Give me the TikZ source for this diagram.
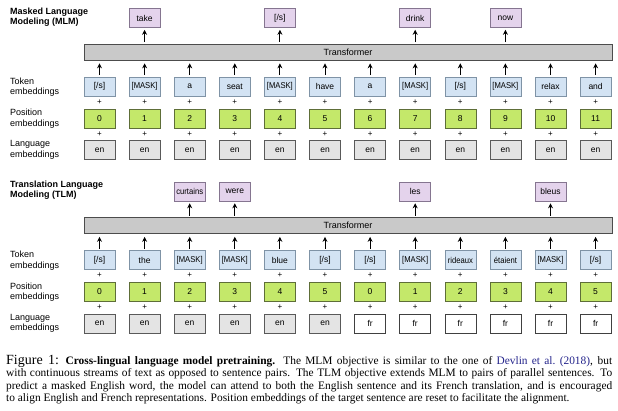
\documentclass[tikz,border=0pt]{standalone}
\usepackage{fontspec}
\setmainfont{Liberation Sans}
\newfontfamily\capserif{Liberation Serif}
\usepackage{graphicx}
\usepackage{xcolor}
\usetikzlibrary{positioning,arrows.meta}

\definecolor{tokfill}{HTML}{D3E3F3}
\definecolor{tokline}{HTML}{7F93A6}
\definecolor{posfill}{HTML}{C4E86A}
\definecolor{posline}{HTML}{5E6E38}
\definecolor{enfill}{HTML}{E4E4E4}
\definecolor{predfill}{HTML}{E4D3EC}
\definecolor{predline}{HTML}{857590}
\definecolor{barfill}{HTML}{C9C9C9}
\definecolor{citeblue}{HTML}{22228A}

\newcommand{\sqz}[1]{\scalebox{0.9}[1]{#1}}

\begin{document}
\begin{tikzpicture}[
  x=1pt, y=-1pt,
  font=\fontsize{8.5}{10}\selectfont,
  box/.style={rectangle, draw, minimum width=31pt, minimum height=19pt, inner sep=0pt, line width=0.6pt},
  tokbox/.style={box, fill=tokfill, draw=tokline},
  posbox/.style={box, fill=posfill, draw=posline},
  langen/.style={box, fill=enfill, draw=black!65},
  langfr/.style={box, fill=white, draw=black!75},
  predbox/.style={box, fill=predfill, draw=predline},
  tfbar/.style={rectangle, draw=black!70, fill=barfill, minimum width=528pt, minimum height=16pt, inner sep=0pt, line width=0.7pt, font=\fontsize{9}{10}\selectfont},
  plussign/.style={inner sep=0pt, font=\fontsize{8}{8}\selectfont},
  rowlab/.style={anchor=west, align=left, inner sep=0pt, font=\fontsize{9}{10.5}\selectfont},
  objlab/.style={rowlab, font=\bfseries\fontsize{9}{10}\selectfont},
  arr/.style={-{Stealth[length=5pt, width=5pt]}, line width=1pt, shorten <=1.5pt, shorten >=3pt}
]
\useasboundingbox (0,0) rectangle (618,410);
% masked language modeling: one stream of English text
\begin{scope}
  \node[objlab] (mtitle) at (10,17) {Masked Language\\Modeling (MLM)};
  \node[rowlab] (mtoklab) at (10,87) {Token\\embeddings};
  \node[rowlab] (mposlab) at (10,118.5) {Position\\embeddings};
  \node[rowlab] (mlanglab) at (10,150) {Language\\embeddings};
  \node[tfbar] (mbar) at (348,52) {Transformer};
  \foreach \w [count=\i from 0] in {{[/s]}, \sqz{[MASK]}, a, seat, \sqz{[MASK]}, have, a, \sqz{[MASK]}, {[/s]}, \sqz{[MASK]}, relax, and} {
    \node[tokbox] (mtok\i) at ({99.5+45.1*\i},86.5) {\w};
    \node[plussign] (mpa\i) at ({99.5+45.1*\i},102) {+};
    \node[posbox] (mpos\i) at ({99.5+45.1*\i},118.5) {\i};
    \node[plussign] (mpb\i) at ({99.5+45.1*\i},134) {+};
    \node[langen] (mlang\i) at ({99.5+45.1*\i},150) {en};
    \draw[arr] (mtok\i) -- (mtok\i.north |- mbar.south);
  }
  \foreach \c/\w in {1/take, 4/{[/s]}, 7/drink, 9/now} {
    \node[predbox] (mout\c) at ({99.5+45.1*\c},18) {\w};
    \draw[arr, shorten >=2pt] (mout\c.south |- mbar.north) -- (mout\c);
  }
\end{scope}
% translation language modeling: English sentence followed by its French translation
\begin{scope}[yshift=-173.5pt]
  \node[objlab] (ttitle) at (10,17) {Translation Language\\Modeling (TLM)};
  \node[rowlab] (ttoklab) at (10,87) {Token\\embeddings};
  \node[rowlab] (tposlab) at (10,118.5) {Position\\embeddings};
  \node[rowlab] (tlanglab) at (10,150) {Language\\embeddings};
  \node[tfbar] (tbar) at (348,52) {Transformer};
  \foreach \w/\p/\l [count=\i from 0] in {{[/s]}/0/en, the/1/en, \sqz{[MASK]}/2/en, \sqz{[MASK]}/3/en, blue/4/en, {[/s]}/5/en,
      {[/s]}/0/fr, \sqz{[MASK]}/1/fr, \sqz{rideaux}/2/fr, \sqz{étaient}/3/fr, \sqz{[MASK]}/4/fr, {[/s]}/5/fr} {
    \node[tokbox] (ttok\i) at ({99.5+45.1*\i},86.5) {\w};
    \node[plussign] (tpa\i) at ({99.5+45.1*\i},102) {+};
    \node[posbox] (tpos\i) at ({99.5+45.1*\i},118.5) {\p};
    \node[plussign] (tpb\i) at ({99.5+45.1*\i},134) {+};
    \node[lang\l] (tlang\i) at ({99.5+45.1*\i},150) {\l};
    \draw[arr] (ttok\i) -- (ttok\i.north |- tbar.south);
  }
  \foreach \c/\w in {2/\sqz{curtains}, 3/were, 7/les, 10/bleus} {
    \node[predbox] (tout\c) at ({99.5+45.1*\c},18) {\w};
    \draw[arr, shorten >=2pt] (tout\c.south |- tbar.north) -- (tout\c);
  }
\end{scope}
% caption under the two panels
\node[anchor=north west, inner sep=0pt, text width=606pt, align=justify,
      font=\capserif\fontsize{11.4}{12.5}\selectfont] (caption) at (6,355)
  {{\fontsize{14}{12.5}\selectfont Figure 1:} \textbf{Cross-lingual language model pretraining.} The MLM objective is similar to the one of \textcolor{citeblue}{Devlin et al.\ (2018)}, but\linebreak
   with continuous streams of text as opposed to sentence pairs. The TLM objective extends MLM to pairs of parallel sentences. To\linebreak
   predict a masked English word, the model can attend to both the English sentence and its French translation, and is encouraged\linebreak
   to align English and French representations. Position embeddings of the target sentence are reset to facilitate the alignment.};
\end{tikzpicture}
\end{document}
